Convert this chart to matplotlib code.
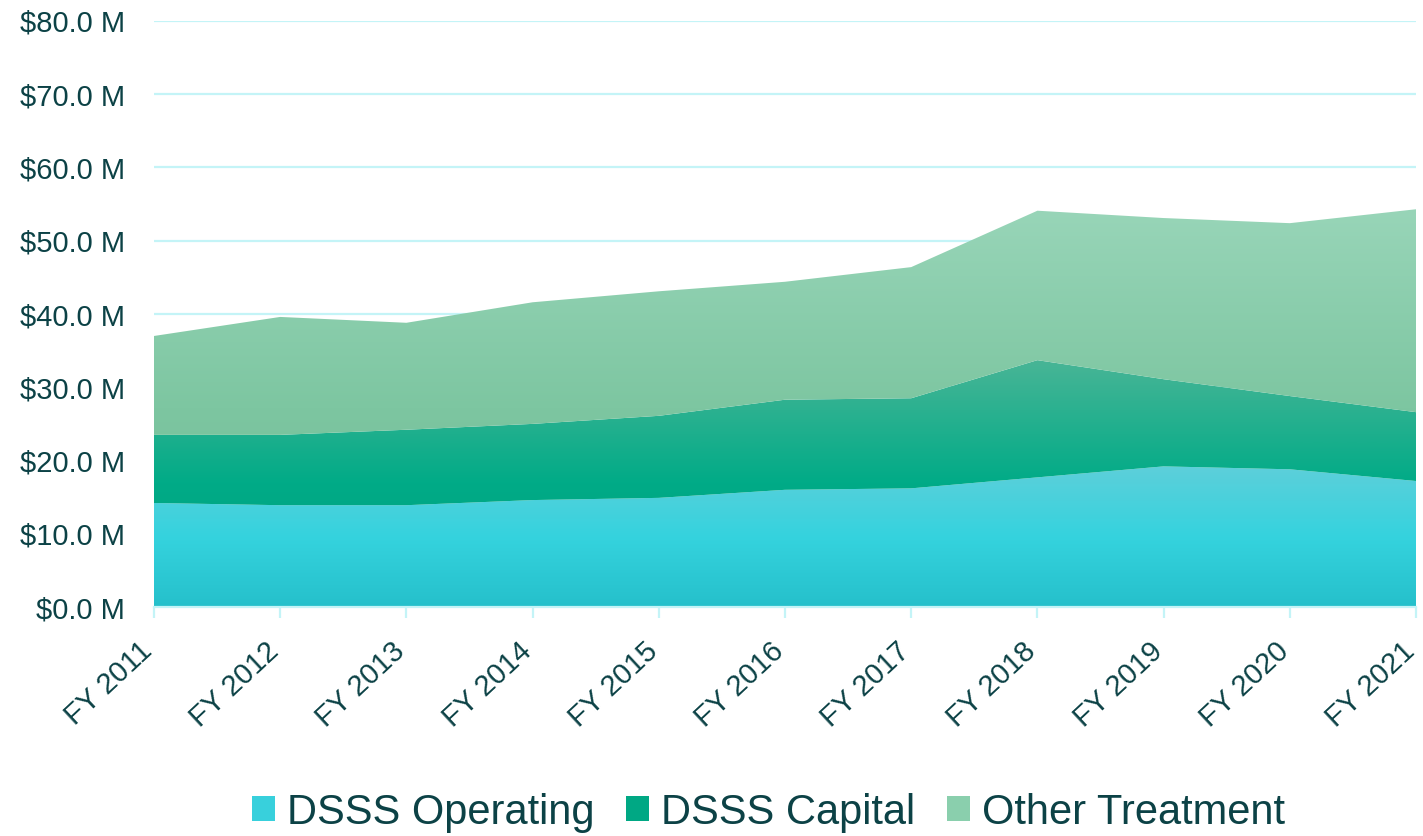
import numpy as np
import matplotlib
matplotlib.use("Agg")
import matplotlib.pyplot as plt
from matplotlib.colors import LinearSegmentedColormap
from matplotlib.patches import Patch

plt.rcParams['font.family'] = ['Liberation Sans', 'DejaVu Sans']

years = ["FY 2011", "FY 2012", "FY 2013", "FY 2014", "FY 2015", "FY 2016",
         "FY 2017", "FY 2018", "FY 2019", "FY 2020", "FY 2021"]
dsss_operating = [14.2, 13.9, 13.9, 14.6, 14.9, 16.0, 16.2, 17.7, 19.2, 18.8, 17.2]
dsss_capital = [9.3, 9.6, 10.3, 10.4, 11.2, 12.3, 12.3, 16.0, 11.9, 10.0, 9.4]
other_treatment = [13.5, 16.1, 14.6, 16.6, 17.0, 16.1, 17.9, 20.4, 22.0, 23.6, 27.7]
series_names = ["DSSS Operating", "DSSS Capital", "Other Treatment"]
y_ticks = [0, 10, 20, 30, 40, 50, 60, 70, 80]

# gradient stops: top, middle, bottom
grad = [
    ["#5dcfda", "#35d3de", "#25c0cb"],
    ["#48b596", "#00ab87", "#009d7b"],
    ["#98d5b8", "#7dc6a1", "#6cb890"],
]
mid_colors = ["#38d0dc", "#00a884", "#8acfad"]
text_color = "#0c4246"
grid_color = "#c4f4f7"

fig = plt.figure(figsize=(14.23, 8.36), dpi=100)
ax = fig.add_axes([0.1082, 0.2739, 0.9951 - 0.1082, 0.9749 - 0.2739])

x = np.arange(len(years))
series = [dsss_operating, dsss_capital, other_treatment]
base = np.zeros(len(years))
for i, s in enumerate(series):
    top = base + np.array(s)
    poly = ax.fill_between(x, base, top, facecolor="none", edgecolor="none", zorder=3)
    cmap = LinearSegmentedColormap.from_list(f"g{i}", grad[i][::-1])
    g = np.linspace(0, 1, 256).reshape(-1, 1)
    im = ax.imshow(g, cmap=cmap, aspect="auto", origin="lower",
                   extent=[x[0], x[-1], 0, top.max()], zorder=3, interpolation="bilinear")
    path = poly.get_paths()[0]
    im.set_clip_path(path, transform=ax.transData)
    base = top

ax.set_xlim(x[0], x[-1])
ax.set_ylim(0, 80)
ax.set_yticks(y_ticks)
ax.set_yticklabels([f"${v:.1f} M" for v in y_ticks])
ax.set_xticks(x)
ax.set_xticklabels(years, rotation=43, ha="right", va="baseline", rotation_mode="anchor")

ax.grid(axis="y", color=grid_color, linewidth=1.6, zorder=1)
ax.set_axisbelow(True)
for side in ["top", "right", "left"]:
    ax.spines[side].set_visible(False)
ax.spines["bottom"].set_color(grid_color)
ax.spines["bottom"].set_linewidth(1.6)
ax.spines["bottom"].set_zorder(4)
ax.tick_params(axis="y", length=0, pad=21, labelsize=21, labelcolor=text_color)
ax.tick_params(axis="x", length=8, width=1.6, color=grid_color, pad=25,
               labelsize=21, labelcolor=text_color)

handles = [Patch(facecolor=c, edgecolor="none") for c in mid_colors]
fig.legend(handles, series_names, loc="center", bbox_to_anchor=(0.540, 0.028),
           ncol=3, frameon=False, fontsize=30, labelcolor=text_color,
           handlelength=0.55, handleheight=0.55, handletextpad=0.3, columnspacing=0.75)

fig.savefig("out.png", dpi=100)
